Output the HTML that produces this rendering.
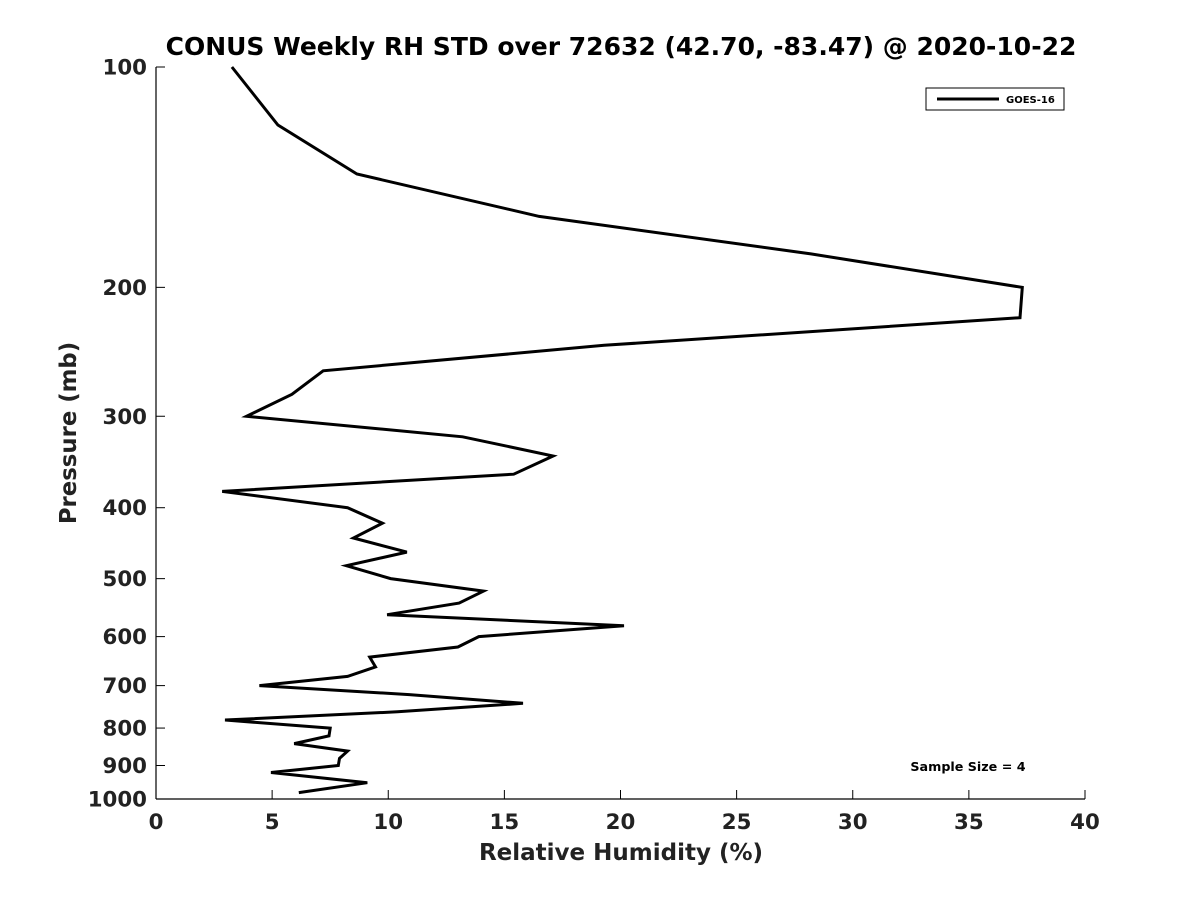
<!DOCTYPE html>
<html><head><meta charset="utf-8"><style>
body{margin:0;background:#fff;}
svg{display:block;font-family:"DejaVu Sans","Liberation Sans",sans-serif;}
</style></head><body>
<svg id="chart" width="1200" height="900">
<text x="621" y="55" text-anchor="middle" font-size="25" font-weight="bold" fill="#000">CONUS Weekly RH STD over 72632 (42.70, -83.47) @ 2020-10-22</text>
<g id="axes"></g>
<path id="line" fill="none" stroke="#000" stroke-width="3" stroke-linejoin="miter"></path>
<g>
<rect x="926" y="88" width="138" height="22" fill="#fff" stroke="#000" stroke-width="1"/>
<line x1="937" y1="99" x2="999" y2="99" stroke="#000" stroke-width="3"/>
<text x="1006" y="103" font-size="10" font-weight="bold">GOES-16</text>
</g>
<text x="968" y="771" text-anchor="middle" font-size="12.7" font-weight="bold">Sample Size = 4</text>
<text x="621" y="860" text-anchor="middle" font-size="23" font-weight="bold" fill="#222">Relative Humidity (%)</text>
<text transform="translate(76,433) rotate(-90)" text-anchor="middle" font-size="22.8" font-weight="bold" fill="#222">Pressure (mb)</text>
</svg>
<script>
const rhValues=[3.27,5.25,8.65,16.5,28.2,37.3,37.2,19.3,7.2,5.85,3.9,13.2,17.1,15.4,2.85,8.25,9.75,8.5,10.8,8.2,10.1,14.1,13.05,9.95,20.15,13.9,13.0,9.2,9.45,8.25,4.45,10.9,15.8,10.4,2.97,7.5,7.45,5.95,8.25,7.9,7.85,4.95,9.1,6.15];
const pressures=[100,120,140,160,180,200,220,240,260,280,300,320,340,360,380,400,420,440,460,480,500,520,540,560,580,600,620,640,660,680,700,720,740,760,780,800,820,840,860,880,900,920,950,980];
const xTicks=[0,5,10,15,20,25,30,35,40];
const yTicks=[100,200,300,400,500,600,700,800,900,1000];
const X=v=>156+(v-0)/(40-0)*(1085-156);
const Y=p=>67+Math.log10(p/100)*(799-67);
const ns="http://www.w3.org/2000/svg";
const g=document.getElementById('axes');
function mk(t,a){const e=document.createElementNS(ns,t);for(const k in a)e.setAttribute(k,a[k]);g.appendChild(e);return e;}
let e=mk('line',{x1:156,y1:67,x2:156,y2:799,stroke:'#000','stroke-width':1.2});


e=mk('line',{x1:156,y1:799,x2:1085,y2:799,stroke:'#000','stroke-width':1.2});


xTicks.forEach(v=>{
 const t=mk('line',{x1:X(v),y1:799,x2:X(v),y2:790,stroke:'#000'});
 
 
 const l=mk('text',{x:X(v),y:829,'text-anchor':'middle','font-size':21.3,'font-weight':'bold',fill:'#222'});
 l.textContent=v;
 
 
});
yTicks.forEach(p=>{
 const t=mk('line',{x1:156,y1:Y(p),x2:165,y2:Y(p),stroke:'#000'});
 
 
 const l=mk('text',{x:147,y:Y(p)+7.5,'text-anchor':'end','font-size':21.3,'font-weight':'bold',fill:'#222'});
 l.textContent=p;
 
 
});
document.getElementById('line').setAttribute('d',rhValues.map((v,i)=>(i?'L':'M')+X(v).toFixed(1)+','+Y(pressures[i]).toFixed(1)).join(''));
</script>
</body></html>
